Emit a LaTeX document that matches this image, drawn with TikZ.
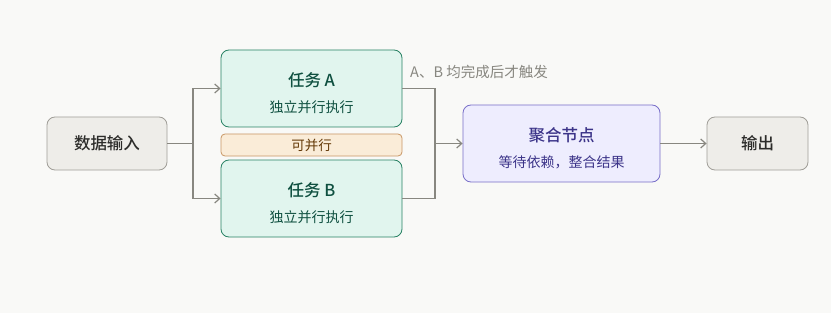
\documentclass[tikz,border=0pt]{standalone}
\usepackage{fontspec}
\setmainfont{Noto Sans CJK SC}[BoldFont={Noto Sans CJK SC Medium}]
\usepackage{xcolor}
\definecolor{bgpaper}{RGB}{249,249,247}
\definecolor{grayfill}{RGB}{238,237,233}
\definecolor{grayline}{RGB}{160,158,152}
\definecolor{graytext}{RGB}{44,44,42}
\definecolor{greenfill}{RGB}{225,245,238}
\definecolor{greenline}{RGB}{40,130,100}
\definecolor{greentext}{RGB}{15,80,64}
\definecolor{amberfill}{RGB}{250,236,216}
\definecolor{amberline}{RGB}{200,150,100}
\definecolor{ambertext}{RGB}{99,56,6}
\definecolor{purplefill}{RGB}{238,237,254}
\definecolor{purpleline}{RGB}{120,110,200}
\definecolor{purpletext}{RGB}{60,52,137}
\definecolor{linkgray}{RGB}{136,135,128}
\usepackage{tikz}
\usetikzlibrary{arrows.meta, positioning, calc}

\tikzset{
  box/.style={rounded corners=8pt, line width=0.8pt, align=center, inner sep=0pt},
  endbox/.style={box, fill=grayfill, draw=grayline, text=graytext,
    minimum height=53pt, font=\fontsize{16.5}{20}\selectfont\bfseries},
  taskbox/.style={box, fill=greenfill, draw=greenline, text=greentext,
    minimum width=181pt, minimum height=77pt},
  mergebox/.style={box, fill=purplefill, draw=purpleline, text=purpletext,
    minimum width=197pt, minimum height=77pt},
  tagbox/.style={box, rounded corners=4pt, fill=amberfill, draw=amberline, text=ambertext,
    minimum width=181pt, minimum height=22pt, font=\fontsize{13.5}{16}\selectfont},
  link/.style={draw=linkgray, line width=1.4pt},
  tip/.style={-{Straight Barb[length=5pt,width=9pt,line width=1.2pt]}},
}
\newcommand{\boxhead}[1]{{\fontsize{16.5}{20}\selectfont\bfseries\rule{0pt}{24pt}#1}}
\newcommand{\boxsub}[1]{{\fontsize{14}{17}\selectfont #1}}

\begin{document}
\begin{tikzpicture}[x=1pt, y=-1pt]
  % paper
  \fill[bgpaper] (0,0) rectangle (831,313);
  \useasboundingbox (0,0) rectangle (831,313);

  % boxes
  \node[endbox, minimum width=120pt] (input) at (107,143.5) {数据输入};
  \node[taskbox] (taskA) at (311.5,88.5) {\boxhead{任务 A}\\[12pt]\boxsub{独立并行执行}};
  \node[tagbox] (tag) at (311.5,145) {可并行};
  \node[taskbox] (taskB) at (311.5,198.5) {\boxhead{任务 B}\\[12pt]\boxsub{独立并行执行}};
  \node[mergebox] (merge) at (561.5,143.5) {\boxhead{聚合节点}\\[12pt]\boxsub{等待依赖，整合结果}};
  \node[endbox, minimum width=101pt] (output) at (757.5,143.5) {输出};

  % fork and join points
  \coordinate (split) at (193,143.5);
  \coordinate (join) at (435,143.5);

  % connectors
  \draw[link] (input.east) -- (split);
  \draw[link, tip] (split) |- (taskA.west);
  \draw[link, tip] (split) |- (taskB.west);
  \draw[link] (taskA.east) -| (join);
  \draw[link] (taskB.east) -| (join);
  \draw[link, tip] (join) -- (merge.west);
  \draw[link, tip] (merge.east) -- (output.west);

  % trigger note
  \node[anchor=west, text=linkgray, font=\fontsize{14.5}{17}\selectfont, inner sep=0pt] (note)
    at (410,72) {A、B 均完成后才触发};
\end{tikzpicture}
\end{document}
